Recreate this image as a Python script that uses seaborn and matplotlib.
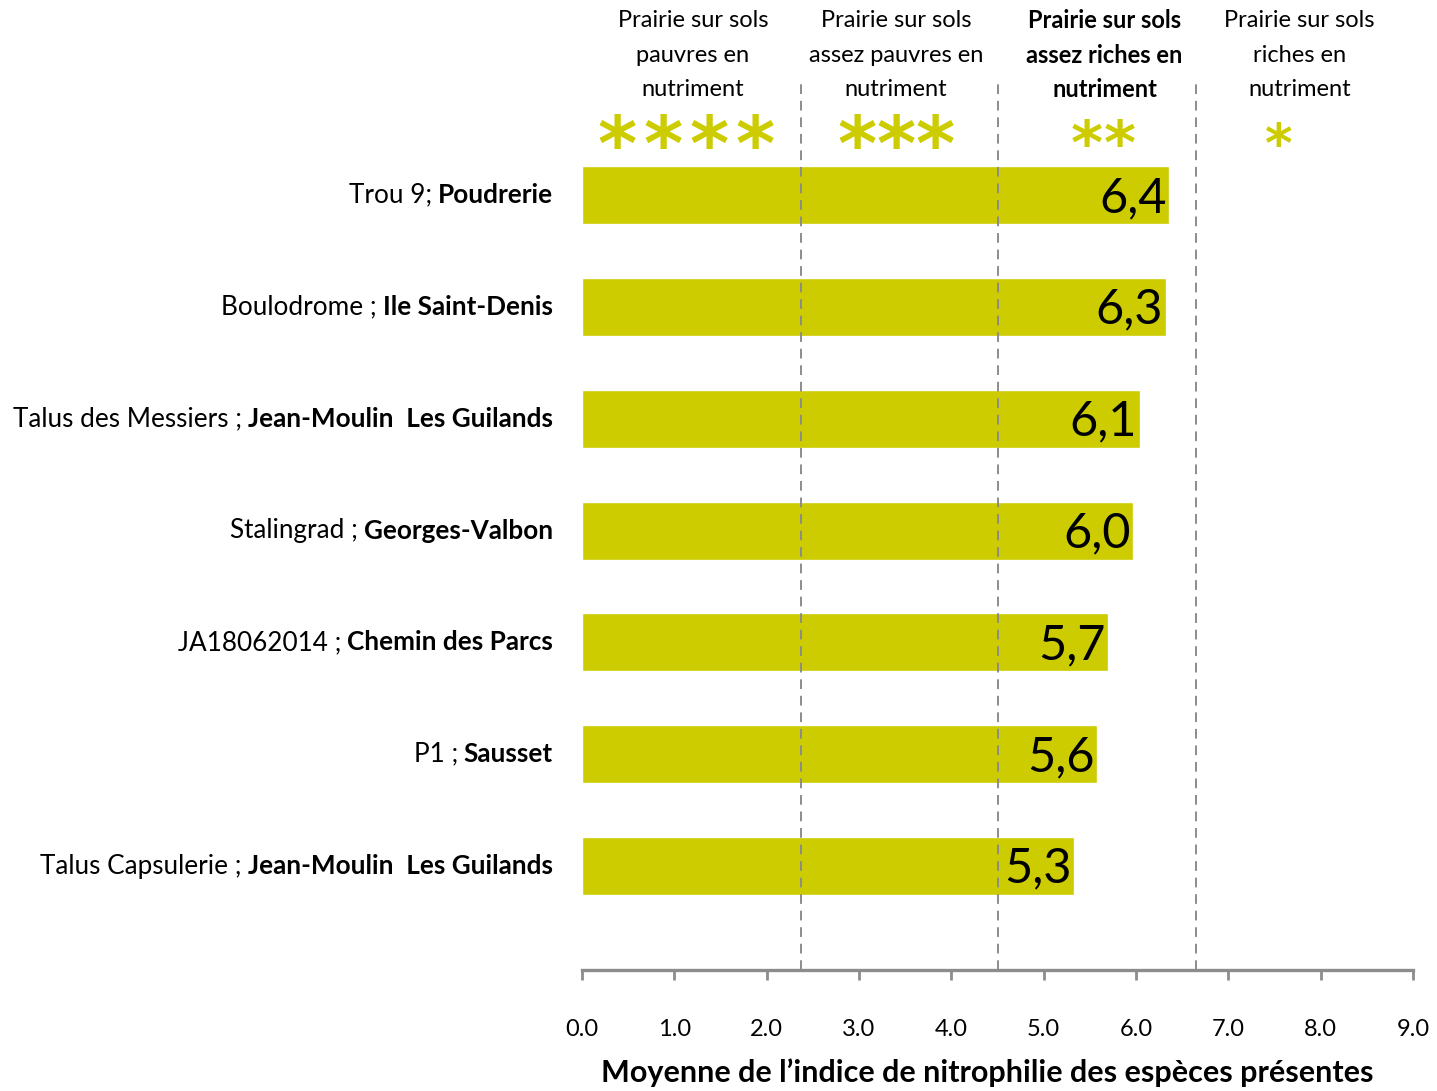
import matplotlib
matplotlib.use("Agg")
import matplotlib.pyplot as plt
import matplotlib.transforms as mtransforms
import seaborn as sns
import pandas as pd

# ---------------- data ----------------
sites = ["Trou 9;", "Boulodrome ;", "Talus des Messiers ;", "Stalingrad ;",
         "JA18062014 ;", "P1 ;", "Talus Capsulerie ;"]
communes = ["Poudrerie", "Ile Saint-Denis", "Jean-Moulin  Les Guilands",
            "Georges-Valbon", "Chemin des Parcs", "Sausset",
            "Jean-Moulin  Les Guilands"]
values = [6.36, 6.32, 6.04, 5.97, 5.70, 5.58, 5.33]
value_labels = ["6,4", "6,3", "6,1", "6,0", "5,7", "5,6", "5,3"]

thresholds = [2.37, 4.5, 6.65]
class_labels = [["Prairie sur sols", "pauvres en", "nutriment"],
                ["Prairie sur sols", "assez pauvres en", "nutriment"],
                ["Prairie sur sols", "assez riches en", "nutriment"],
                ["Prairie sur sols", "riches en", "nutriment"]]
class_bold = [False, False, True, False]
class_stars = [4, 3, 2, 1]
xticks = [0, 1, 2, 3, 4, 5, 6, 7, 8, 9]
xlabel = "Moyenne de l\u2019indice de nitrophilie des esp\u00e8ces pr\u00e9sentes"

# ---------------- layout / style ----------------
BAR = "#cccc00"
GREY = "#8c8c8c"
header_x = [1.20, 3.40, 5.66, 7.77]
star_x = [1.13, 3.40, 5.64, 7.55]

sns.set_theme(style="white")
FONT = "Lato"
plt.rcParams["font.family"] = [FONT, "DejaVu Sans"]
plt.rcParams["text.color"] = "black"
plt.rcParams["axes.labelcolor"] = "black"
plt.rcParams["xtick.labelcolor"] = "black"

W, H, DPI = 1437, 1091, 100
fig = plt.figure(figsize=(W / DPI, H / DPI), dpi=DPI)
AX_TOP = 80
ax = fig.add_axes([582 / W, 1 - 970 / H, (1413 - 582) / W, (970 - AX_TOP) / H])

df = pd.DataFrame({"site": [str(i) for i in range(len(values))], "val": values})
sns.barplot(data=df, x="val", y="site", orient="h", color=BAR, saturation=1,
            width=0.52, ax=ax, zorder=1)

ax.set_xlim(0, 9)
ax.set_ylim(6.93, -1.03)
for s in ["top", "right", "left"]:
    ax.spines[s].set_visible(False)
ax.spines["bottom"].set_color(GREY)
ax.spines["bottom"].set_linewidth(2.4)
ax.set_xticks(xticks)
ax.set_xticklabels([f"{t:.1f}" for t in xticks], fontsize=17, color="black")
ax.tick_params(axis="x", direction="out", length=7, width=2, color=GREY,
               pad=28, bottom=True)
ax.set_yticks([])
ax.set_ylabel("")
ax.set_xlabel(xlabel, fontsize=22, fontweight="bold", color="black")
ax.xaxis.set_label_coords((987 - 582) / 831, -(1073 - 970) / 890)
ax.xaxis.label.set_va("center")

# threshold dashed lines
for t in thresholds:
    ax.axvline(t, ymin=0, ymax=1, color=GREY, linestyle=(0, (5, 3.5)),
               linewidth=1.4, zorder=3)

# value labels
for i, (v, lab) in enumerate(zip(values, value_labels)):
    ax.annotate(lab, xy=(v, i), xytext=(-2, -2), textcoords="offset points",
                ha="right", va="center", fontsize=35, color="black", zorder=4)

# class headers (each line placed at fixed pixel rows)
tr = ax.get_xaxis_transform()
AXH = 970 - AX_TOP
line_y = [20, 55, 89]
for c, lines, b in zip(header_x, class_labels, class_bold):
    for ln, yp in zip(lines, line_y):
        ax.text(c, 1.0 + (AX_TOP - yp) / AXH, ln, transform=tr, ha="center",
                va="center", fontsize=17, fontweight="bold" if b else "normal",
                color="black", clip_on=False)

star_size = {4: 54, 3: 54, 2: 44, 1: 38}
star_step = {4: 46, 3: 39, 2: 33, 1: 0}   # pixel spacing between stars
for c, n in zip(star_x, class_stars):
    for k in range(n):
        dx = (k - (n - 1) / 2) * star_step[n]
        t = mtransforms.offset_copy(tr, fig=fig, x=dx, y=0, units="dots")
        ax.text(c, 1.0 - (141 - AX_TOP) / AXH, "*", transform=t, ha="center",
                va="center_baseline", fontsize=star_size[n], color=BAR,
                fontweight="bold", family="DejaVu Sans", clip_on=False)

# y labels: normal part + bold part
fig.canvas.draw()
renderer = fig.canvas.get_renderer()
bold_tr = mtransforms.offset_copy(ax.get_yaxis_transform(), fig=fig,
                                  x=-29, y=0, units="dots")
ntr = mtransforms.blended_transform_factory(mtransforms.IdentityTransform(),
                                            ax.transData)
for i, (s, c) in enumerate(zip(sites, communes)):
    tb = ax.text(0, i, c, transform=bold_tr, ha="right", va="center",
                 fontsize=18.8, fontweight="bold", color="black", clip_on=False)
    bb = tb.get_window_extent(renderer)
    ax.text(bb.x0 - 6, i, s, transform=ntr, ha="right", va="center",
            fontsize=18.8, color="black", clip_on=False)

fig.savefig("out.png", dpi=DPI)
